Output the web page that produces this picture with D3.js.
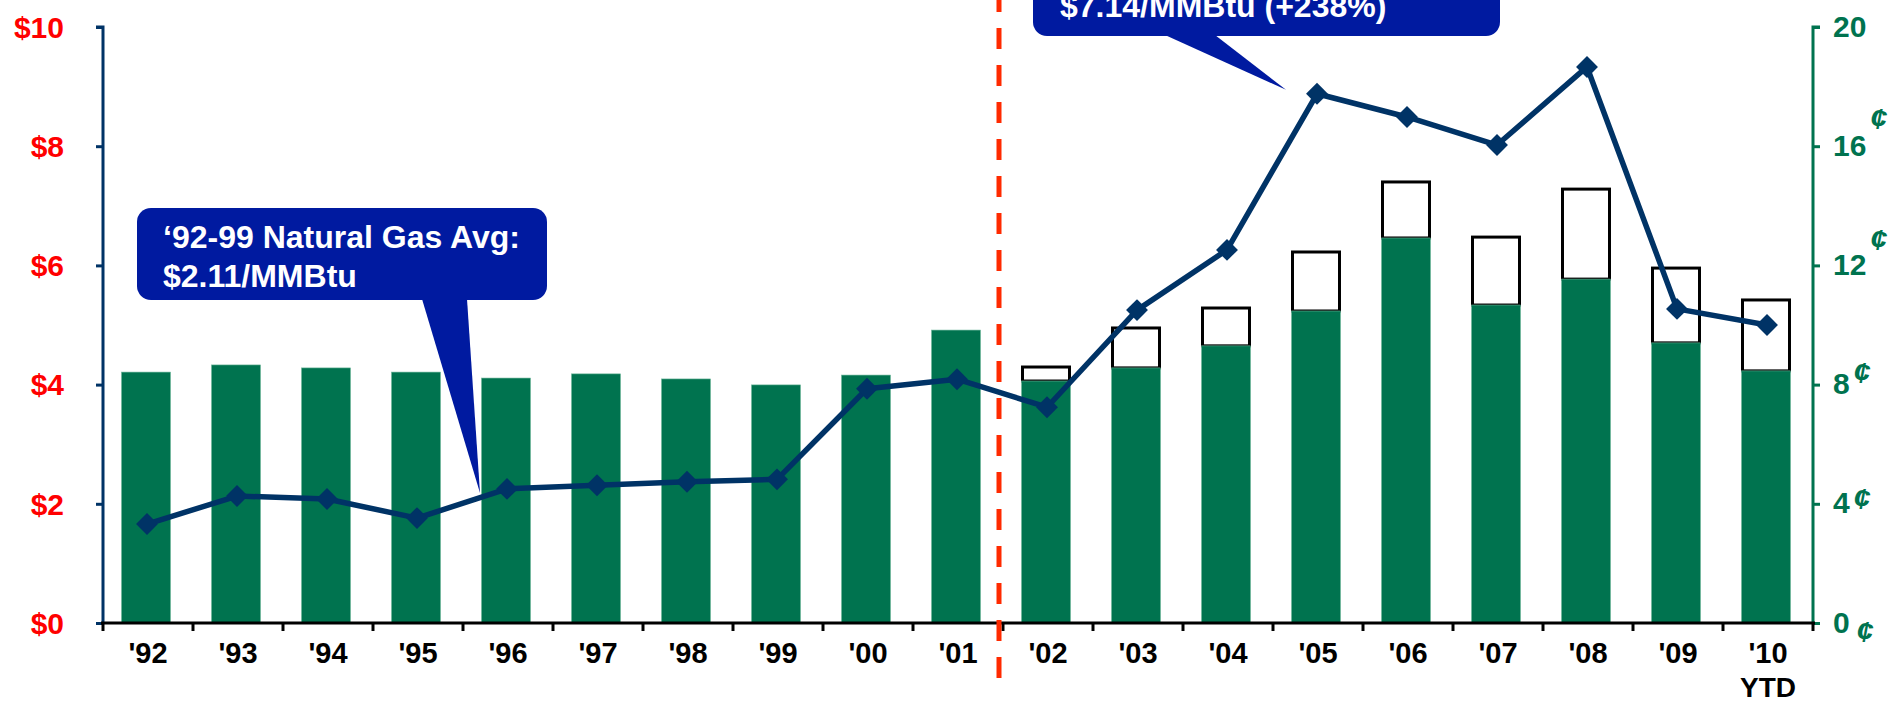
<!DOCTYPE html>
<html>
<head>
<meta charset="utf-8">
<script src="https://cdn.jsdelivr.net/npm/d3@7"></script>
<style>
  html, body { margin: 0; padding: 0; background: #fff; }
  svg { display: block; font-family: "Liberation Sans", Arial, sans-serif; font-weight: bold; }
</style>
</head>
<body>
<svg id="chart" width="1898" height="702"></svg>
<script>
// categories
const years = ["'92","'93","'94","'95","'96","'97","'98","'99","'00","'01","'02","'03","'04","'05","'06","'07","'08","'09","'10"];
const yearSub = ["","","","","","","","","","","","","","","","","","","YTD"];
// natural gas price, $/MMBtu (left axis)
const gasPrice = [1.66,2.13,2.08,1.76,2.25,2.31,2.37,2.41,3.93,4.09,3.62,5.25,6.26,8.88,8.49,8.02,9.33,5.27,5.00];
// rate, cents (right axis): solid green part and outlined total
const rateBase = [8.42,8.66,8.56,8.42,8.22,8.36,8.19,7.99,8.32,9.83,8.12,8.56,9.30,10.47,12.92,10.67,11.54,9.40,8.46];
const rateTotal = [null,null,null,null,null,null,null,null,null,null,8.59,9.90,10.57,12.45,14.80,12.95,14.56,11.91,10.84];
// axis ticks
const leftTicks = [0,2,4,6,8,10];
const rightTicks = [0,4,8,12,16,20];
// callout texts
const noteEarly = ["\u201892-99 Natural Gas Avg:", "$2.11/MMBtu"];
const noteLate = ["$7.14/MMBtu (+238%)"];

const green = "#00734f", navy = "#003366", calloutBlue = "#001aa0";
const svg = d3.select("#chart");

const x = d3.scaleBand().domain(years).range([103, 1813]).padding(0);
const yL = d3.scaleLinear().domain([0, 10]).range([623, 27]);
const yR = d3.scaleLinear().domain([0, 20]).range([623, 27]);
const bw = 49;
const bx = d => x(d) + (x.bandwidth() - bw) / 2 - 2;

// outlined upper part of the bars
svg.append("g").selectAll("rect")
  .data(years.map((d, i) => ({ d, lo: rateBase[i], hi: rateTotal[i] })).filter(o => o.hi != null))
  .join("rect")
  .attr("x", o => bx(o.d) + 1)
  .attr("width", bw - 2)
  .attr("y", o => yR(o.hi))
  .attr("height", o => yR(o.lo) - yR(o.hi))
  .attr("fill", "#fff")
  .attr("stroke", "#000")
  .attr("stroke-width", 3);

// green bars
svg.append("g").selectAll("rect")
  .data(years.map((d, i) => ({ d, v: rateBase[i] })))
  .join("rect")
  .attr("x", o => bx(o.d))
  .attr("width", bw)
  .attr("y", o => yR(o.v))
  .attr("height", o => yR(0) - yR(o.v))
  .attr("fill", green)
  .attr("stroke", "#6fb79c")
  .attr("stroke-width", 0.6);

// left axis
const gL = svg.append("g").attr("transform", "translate(103,0)")
  .call(d3.axisLeft(yL).tickValues(leftTicks).tickFormat(d => "$" + d).tickSize(7).tickPadding(32));
gL.select(".domain").attr("stroke", navy).attr("stroke-width", 3).attr("d", `M-7,${yL(10)}H0V${yL(0)}`);
gL.selectAll(".tick line").attr("stroke", navy).attr("stroke-width", 3);
gL.selectAll(".tick text").attr("fill", "#ff0000").attr("font-size", 30).attr("font-weight", "bold")
  .attr("font-family", "Liberation Sans, Arial, sans-serif").attr("dy", "0.34em");

// right axis
const gR = svg.append("g").attr("transform", "translate(1813,0)")
  .call(d3.axisRight(yR).tickValues(rightTicks).tickFormat("").tickSize(7));
gR.select(".domain").attr("stroke", green).attr("stroke-width", 3).attr("d", `M7,${yR(20)}H0V${yR(0)}`);
gR.selectAll(".tick line").attr("stroke", green).attr("stroke-width", 3);
const centDy = { 0: 9, 4: -4, 8: -11, 12: -25, 16: -27 };
gR.selectAll(".tick").each(function(d) {
  const t = d3.select(this).append("text")
    .attr("x", 20).attr("y", 9).attr("fill", green)
    .attr("font-size", 30).attr("text-anchor", "start")
    .text(d);
  if (d !== 20) {
    t.append("tspan").attr("dx", d === 0 ? 7 : 4).attr("dy", centDy[d])
      .attr("font-size", 30).attr("font-style", "italic").text("\u00a2");
  }
});

// x axis
const gX = svg.append("g").attr("transform", `translate(0,${yL(0)})`);
gX.append("line").attr("x1", 101).attr("x2", 1815).attr("stroke", "#000").attr("stroke-width", 3);
gX.selectAll(".tk").data(years.concat(["end"]))
  .join("line").attr("class", "tk")
  .attr("x1", (d, i) => i < years.length ? x(d) : x.range()[1])
  .attr("x2", (d, i) => i < years.length ? x(d) : x.range()[1])
  .attr("y1", 0).attr("y2", 8).attr("stroke", "#000").attr("stroke-width", 3);
gX.selectAll(".lab").data(years).join("text").attr("class", "lab")
  .attr("x", d => x(d) + x.bandwidth() / 2).attr("y", 40)
  .attr("text-anchor", "middle").attr("font-size", 29).attr("fill", "#000").text(d => d);
gX.selectAll(".sub").data(years.filter((d, i) => yearSub[i])).join("text").attr("class", "sub")
  .attr("x", d => x(d) + x.bandwidth() / 2).attr("y", 74)
  .attr("text-anchor", "middle").attr("font-size", 28).attr("fill", "#000")
  .text(d => yearSub[years.indexOf(d)]);

// price line
const cx = d => x(d) + x.bandwidth() / 2 - 1;
const line = d3.line().x((v, i) => cx(years[i])).y(v => yL(v));
svg.append("path").datum(gasPrice).attr("d", line)
  .attr("fill", "none").attr("stroke", navy).attr("stroke-width", 5.5).attr("stroke-linejoin", "round");
svg.append("g").selectAll("path").data(gasPrice).join("path")
  .attr("d", d3.symbol(d3.symbolSquare, 240))
  .attr("transform", (v, i) => `translate(${cx(years[i])},${yL(v)}) rotate(45)`)
  .attr("fill", navy);

// divider between '01 and '02
const xDiv = x("'02") - 4;
svg.append("line").attr("x1", xDiv).attr("x2", xDiv).attr("y1", 0).attr("y2", 678)
  .attr("stroke", "#ff2a00").attr("stroke-width", 5)
  .attr("stroke-dasharray", "21,16").attr("stroke-dashoffset", 9);

// callouts
function callout(box, base, tip, lines, tx, ty, lh) {
  const g = svg.append("g");
  g.append("rect").attr("x", box[0]).attr("y", box[1]).attr("width", box[2]).attr("height", box[3])
    .attr("rx", 14).attr("fill", calloutBlue);
  const by = box[1] + box[3];
  g.append("path").attr("d", `M${base[0]},${by - 1}L${tip[0]},${tip[1]}L${base[1]},${by - 1}Z`).attr("fill", calloutBlue);
  lines.forEach((s, i) => g.append("text").attr("x", tx).attr("y", ty + i * lh)
    .attr("fill", "#fff").attr("font-size", 32).text(s));
}
callout([137, 208, 410, 92], [422, 467], [cx("'96") - 27, yL(gasPrice[4]) + 4], noteEarly, 163, 248, 39);
callout([1033, -70, 467, 106], [1165, 1215], [cx("'05") - 31, yL(gasPrice[13]) - 4], noteLate, 1060, 17, 39);
</script>
</body>
</html>
